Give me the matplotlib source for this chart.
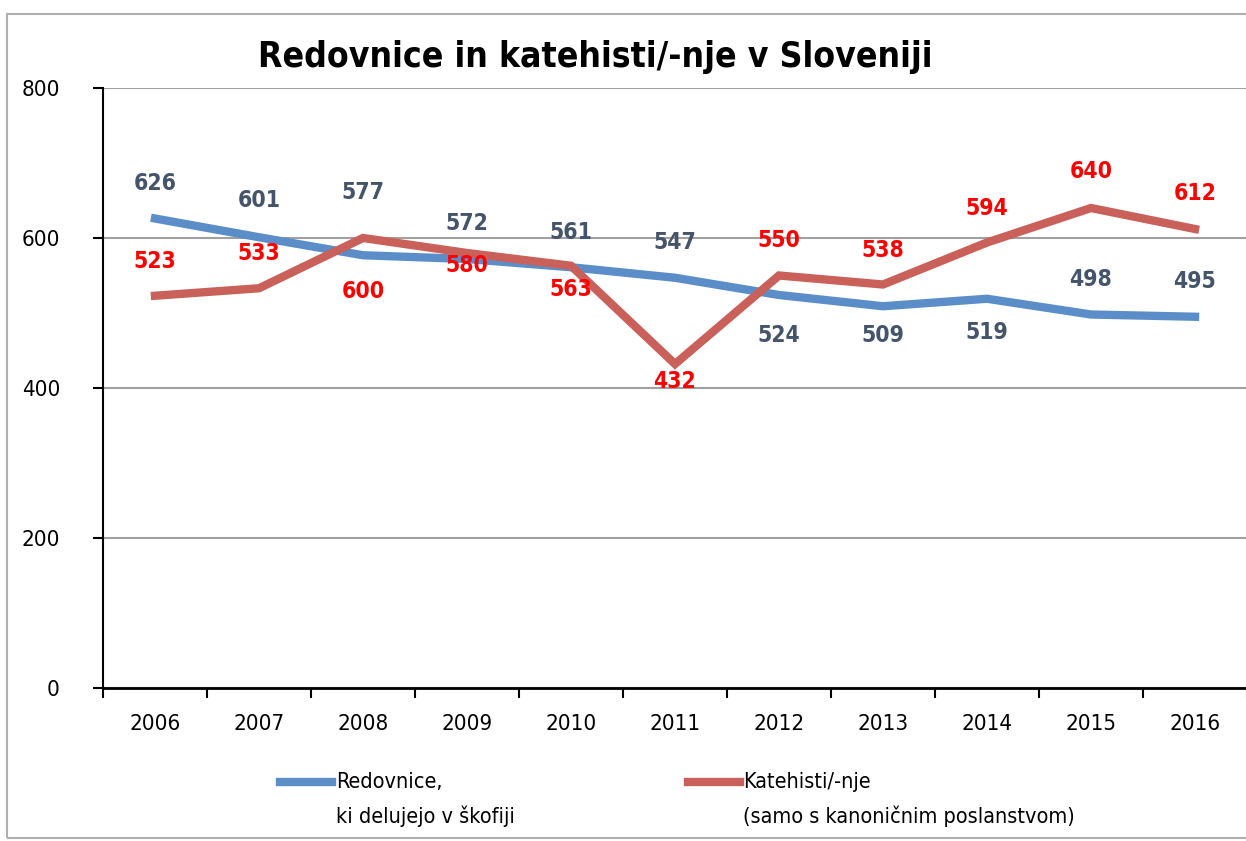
import matplotlib.pyplot as plt
import matplotlib.patches as mpatches
from matplotlib.lines import Line2D

# data
years = ['2006', '2007', '2008', '2009', '2010', '2011', '2012', '2013', '2014', '2015', '2016']
redovnice = [626, 601, 577, 572, 561, 547, 524, 509, 519, 498, 495]
katehisti = [523, 533, 600, 580, 563, 432, 550, 538, 594, 640, 612]

# label offsets in pixels (style only)
blue_dy = [35, 37, 63, 35, 35, 35, -40, -29, -34, 35, 35]
red_dy = [34, 35, -53, -13, -24, -17, 35, 34, 34, 36, 36]

plt.rcParams['font.family'] = ['DejaVu Sans']
plt.rcParams['font.stretch'] = 'condensed'

fig = plt.figure(figsize=(12.46, 8.41), dpi=100)
ax = fig.add_axes([103/1246, 1-688/841, 1144/1246, 600/841])

x = list(range(len(years)))
blue = '#5B8EC8'
red = '#C9605A'
ax.plot(x, redovnice, color=blue, lw=6, solid_joinstyle='miter', zorder=3)
ax.plot(x, katehisti, color=red, lw=6, solid_joinstyle='miter', zorder=4)

for i, v in enumerate(redovnice):
    ax.annotate(str(v), (i, v), xytext=(0, blue_dy[i]), textcoords='offset pixels',
                ha='center', va='center', fontsize=16.5, fontweight='bold', color='#44546A', zorder=5)
for i, v in enumerate(katehisti):
    ax.annotate(str(v), (i, v), xytext=(0, red_dy[i]), textcoords='offset pixels',
                ha='center', va='center', fontsize=16.5, fontweight='bold', color='#FF0000', zorder=5)

ax.set_xlim(-0.5, len(years) - 0.5)
ax.set_ylim(0, 800)
ax.set_yticks([0, 200, 400, 600, 800])
ax.yaxis.grid(True, color='#A0A0A0', lw=1.5)
ax.set_axisbelow(True)
ax.set_xticks(x)
ax.set_xticklabels(years)
ax.set_xticks([i - 0.5 for i in range(len(years) + 1)], minor=True)
ax.tick_params(axis='x', which='major', length=0, pad=19, labelsize=16)
ax.tick_params(axis='x', which='minor', length=7, width=1.5, direction='out')
ax.tick_params(axis='y', length=7, width=1.5, direction='out', labelsize=16, pad=24)
for s in ['top', 'right']:
    ax.spines[s].set_visible(False)
ax.spines['left'].set_linewidth(1.5)
ax.spines['bottom'].set_linewidth(2)

fig.text(595/1246, 1-57/841, 'Redovnice in katehisti/-nje v Sloveniji', ha='center', va='center',
         fontsize=25.5, fontweight='bold')

# legend drawn by hand so the key sits next to the first line of text
fig.add_artist(Line2D([280/1246, 332/1246], [1-782/841]*2, color=blue, lw=6,
                      transform=fig.transFigure))
fig.add_artist(Line2D([688/1246, 740/1246], [1-782/841]*2, color=red, lw=6,
                      transform=fig.transFigure))
fig.text(336/1246, 1-782/841, 'Redovnice,', ha='left', va='center', fontsize=15.5)
fig.text(336/1246, 1-816/841, 'ki delujejo v škofiji', ha='left', va='center', fontsize=15.5)
fig.text(743/1246, 1-782/841, 'Katehisti/-nje', ha='left', va='center', fontsize=15.5)
fig.text(743/1246, 1-816/841, '(samo s kanoničnim poslanstvom)', ha='left', va='center', fontsize=15.5)

fig.patches.append(mpatches.Rectangle((7/1246, 3/841), 1.1, 1-17/841, transform=fig.transFigure,
                                      fill=False, edgecolor='#B0B0B0', lw=1.5))

fig.savefig('out.png', dpi=100)
